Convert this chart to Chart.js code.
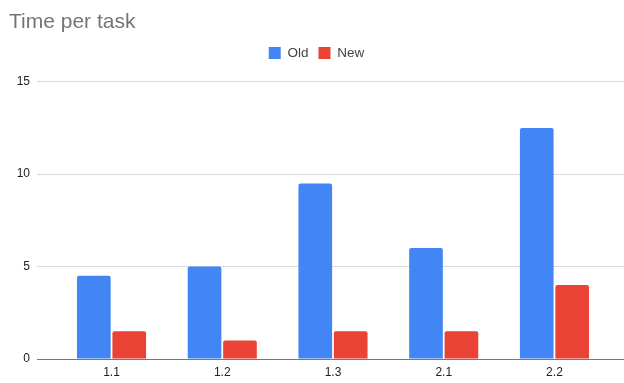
<!DOCTYPE html>
<html>
<head>
<meta charset="utf-8">
<script src="https://cdn.jsdelivr.net/npm/chart.js@4"></script>
<style>
  html, body { margin: 0; padding: 0; background: #fff; }
  #wrap { width: 624px; height: 383px; }
</style>
</head>
<body>
<div id="wrap"><canvas id="grafica" width="624" height="383"></canvas></div>
<script>
// datos
const tareas = ['1.1', '1.2', '1.3', '2.1', '2.2'];
const tiempoOld = [4.5, 5, 9.5, 6, 12.5];
const tiempoNew = [1.5, 1, 1.5, 1.5, 4];
const yTicks = [0, 5, 10, 15];

const fuente = "'Liberation Sans', Arial, sans-serif";

// un poco más de aire debajo de la leyenda
const legendSpacing = {
    id: 'legendSpacing',
    beforeInit(chart) {
        const fit = chart.legend.fit;
        chart.legend.fit = function () {
            fit.bind(chart.legend)();
            this.height += 12;
        };
    }
};

const puntos = (vals) => vals.map((v, i) => ({ x: i, y: v }));

new Chart(document.getElementById('grafica'), {
    type: 'bar',
    data: {
        datasets: [
            {
                label: 'Old',
                data: puntos(tiempoOld),
                backgroundColor: '#4285F4',
                borderRadius: { topLeft: 2, topRight: 2 },
                borderSkipped: 'bottom',
                categoryPercentage: 0.64,
                barPercentage: 0.95
            },
            {
                label: 'New',
                data: puntos(tiempoNew),
                backgroundColor: '#EA4335',
                borderRadius: { topLeft: 2, topRight: 2 },
                borderSkipped: 'bottom',
                categoryPercentage: 0.64,
                barPercentage: 0.95
            }
        ]
    },
    options: {
        responsive: false,
        animation: false,
        events: [],
        layout: { padding: { top: 10, left: 9, right: 0, bottom: 2 } },
        plugins: {
            title: {
                display: true,
                text: 'Time per task',
                align: 'start',
                color: '#757575',
                font: { family: fuente, size: 21, weight: 'normal', lineHeight: 1.2 },
                padding: { top: 0, bottom: 1 }
            },
            legend: {
                display: true,
                position: 'top',
                labels: {
                    boxWidth: 12,
                    boxHeight: 12,
                    padding: 10,
                    color: '#444',
                    font: { family: fuente, size: 13.5 }
                }
            },
            tooltip: { enabled: false }
        },
        scales: {
            x: {
                type: 'linear',
                offset: false,
                min: -0.673,
                max: 4.628,
                grid: { display: false },
                border: { display: false },
                afterBuildTicks: (scale) => {
                    scale.ticks = tareas.map((_, i) => ({ value: i }));
                },
                afterFit: (scale) => { scale.height = 22; },
                ticks: {
                    color: '#222',
                    padding: -2,
                    maxRotation: 0,
                    autoSkip: false,
                    font: { family: fuente, size: 12 },
                    callback: (v) => tareas[v]
                }
            },
            y: {
                min: 0,
                max: 15,
                afterBuildTicks: (scale) => {
                    scale.ticks = yTicks.map((v) => ({ value: v }));
                },
                afterFit: (scale) => { scale.width = 28; },
                grid: {
                    drawTicks: false,
                    color: (ctx) => ctx.tick && ctx.tick.value === 0 ? '#777' : '#d9d9d9'
                },
                border: { display: false },
                ticks: {
                    color: '#222',
                    padding: 7,
                    font: { family: fuente, size: 12 }
                }
            }
        }
    },
    plugins: [legendSpacing]
});
</script>
</body>
</html>
